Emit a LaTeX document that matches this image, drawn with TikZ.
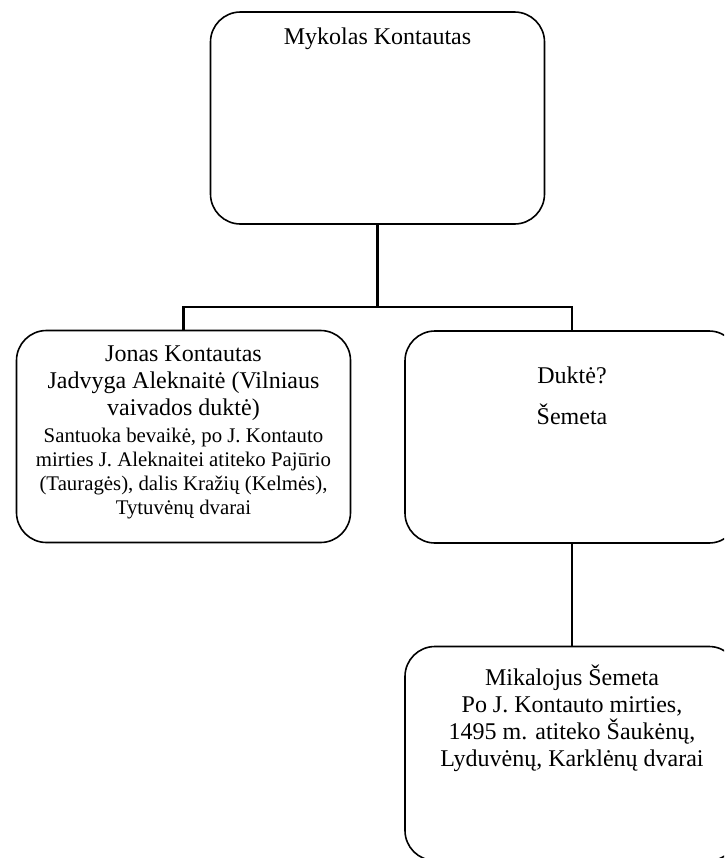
\documentclass[tikz,border=0pt]{standalone}
\usepackage{fontspec}
\setmainfont{Liberation Serif}
\usetikzlibrary{positioning}

\begin{document}
\begin{tikzpicture}[x=0.5pt, y=-0.5pt,
    person/.style={draw, line width=0.8pt, rounded corners=15pt, minimum width=167pt, minimum height=106pt, inner sep=0pt},
    persontext/.style={inner sep=0pt, align=center, font=\fontsize{12}{13.5}\selectfont},
    link/.style={line width=1.2pt}]
    \clip (0,0) rectangle (724,858);
    % family boxes
    \node[person] (mykolas) at (377.5,118) {};
    \node[person] (jonas) at (183.5,436.5) {};
    \node[person] (dukte) at (572,437) {};
    \node[person, minimum height=107pt] (mikalojus) at (572,753.5) {};

    % texts inside the boxes
    \node[persontext, below=8pt of mykolas.north] (mykolastxt) {Mykolas Kontautas};
    \node[persontext, below=8pt of jonas.north] (jonastxt) {Jonas Kontautas\\Jadvyga Aleknaitė (Vilniaus\\vaivados duktė)\\
        \fontsize{10.4}{11.75}\selectfont Santuoka bevaikė, po J. Kontauto\\[-1.6pt]
        \fontsize{10.4}{11.75}\selectfont mirties J. Aleknaitei atiteko Pajūrio\\[-1.6pt]
        \fontsize{10.4}{11.75}\selectfont (Tauragės), dalis Kražių (Kelmės),\\[-1.6pt]
        \fontsize{10.4}{11.75}\selectfont Tytuvėnų dvarai};
    \node[persontext, below=18pt of dukte.north] (duktetxt) {Duktė?\\[7pt]Šemeta};
    \node[persontext, below=9.5pt of mikalojus.north] (mikalojustxt) {Mikalojus Šemeta\\Po J. Kontauto mirties,\\1495 m. atiteko Šaukėnų,\\Lyduvėnų, Karklėnų dvarai};

    % connectors
    \coordinate (fork) at (377.5,307);
    \draw[link] (mykolas.south) -- (fork);
    \draw[link] (jonas.north) |- (fork) -| (dukte.north);
    \draw[link] (dukte.south) -- (mikalojus.north);
\end{tikzpicture}
\end{document}
